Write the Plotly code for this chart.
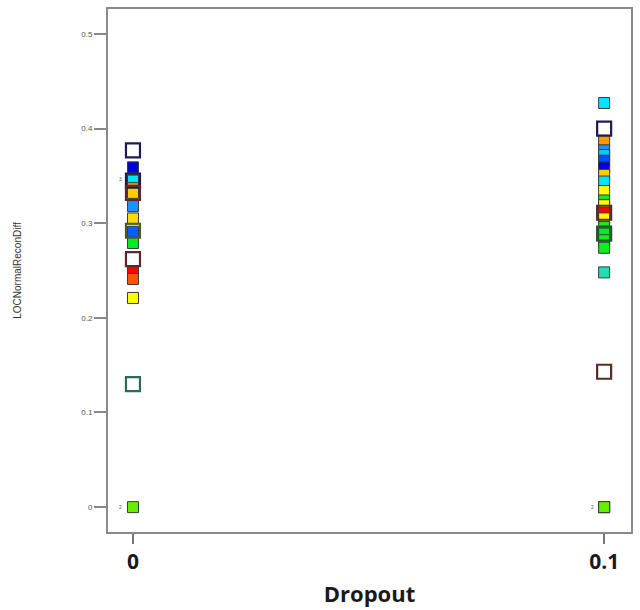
import plotly.graph_objects as go

# ---- data ----
# filled markers: dropout, LOCNormalReconDiff, colour metric (0=blue ... 1=red)
dropout_filled = [0, 0, 0, 0, 0, 0, 0, 0, 0, 0, 0, 0, 0, 0,
                  0.1, 0.1, 0.1, 0.1, 0.1, 0.1, 0.1, 0.1, 0.1, 0.1,
                  0.1, 0.1, 0.1, 0.1, 0.1, 0.1, 0.1, 0.1, 0.1, 0.1, 0.1]
diff_filled = [0.359, 0.345, 0.345, 0.345, 0.337, 0.332, 0.318, 0.305, 0.291, 0.279,
               0.249, 0.241, 0.221, 0.0,
               0.427, 0.387, 0.377, 0.372, 0.366, 0.359, 0.351, 0.344, 0.334, 0.324,
               0.319, 0.311, 0.305, 0.296, 0.289, 0.282, 0.274, 0.248, 0.0, 0.0, 0.0]
color_metric = [0.0, 0.35, 0.35, 0.35, 0.88, 0.82, 0.2, 0.80, 0.12, 0.55,
                1.0, 0.94, 0.75, 0.63,
                0.35, 0.88, 0.2, 0.3, 0.1, 0.0, 0.82, 0.35, 0.75, 0.56,
                0.76, 1.0, 0.76, 0.57, 0.55, 0.57, 0.56, 0.45, 0.63, 0.63, 0.63]

# hollow (highlighted) markers
dropout_hollow = [0, 0, 0, 0, 0, 0.1, 0.1, 0.1, 0.1]
diff_hollow = [0.377, 0.345, 0.332, 0.292, 0.262, 0.400, 0.311, 0.289, 0.143]
hollow_group = ["navy", "navy", "brown", "olive", "brown", "navy", "brown", "green", "brown"]
diff_hollow_teal = [0.130]
dropout_hollow_teal = [0]

# count labels (overlapping points)
count_x = [0, 0, 0.1]
count_y = [0.347, 0.0, 0.0]
count_text = ["3", "2", "2"]

x_tickvals = [0, 0.1]
x_ticktext = ["0", "0.1"]
y_tickvals = [0, 0.1, 0.2, 0.3, 0.4, 0.5]
y_ticktext = ["0", "0.1", "0.2", "0.3", "0.4", "0.5"]

# ---- styling ----
rainbow = [
    [0.0, "#0000dd"], [0.1, "#0050ff"], [0.2, "#1e90ff"], [0.35, "#00e5ff"],
    [0.45, "#20e0b0"], [0.55, "#00ee20"], [0.63, "#66ee00"], [0.75, "#ffff00"],
    [0.82, "#ffcc00"], [0.88, "#ff9900"], [0.94, "#ff5500"], [1.0, "#ff0000"],
]
group_color = {"navy": "#1c1c4e", "brown": "#5a2a2a", "olive": "#4e5a2a",
               "green": "#1f5a2a", "teal": "#2a6a5a"}

fig = go.Figure()

fig.add_trace(go.Scatter(
    x=dropout_filled, y=diff_filled, mode="markers",
    marker=dict(symbol="square", size=11, color=color_metric, colorscale=rainbow,
                cmin=0, cmax=1, line=dict(color="#3a3a3a", width=1)),
    showlegend=False, hoverinfo="x+y",
))

fig.add_trace(go.Scatter(
    x=dropout_hollow, y=diff_hollow, mode="markers",
    marker=dict(symbol="square-open", size=14,
                color=[group_color[g] for g in hollow_group],
                line=dict(width=2.2)),
    showlegend=False, hoverinfo="x+y",
))
fig.add_trace(go.Scatter(
    x=dropout_hollow_teal, y=diff_hollow_teal, mode="markers",
    marker=dict(symbol="square-open", size=14, color=group_color["teal"],
                line=dict(width=2.2)),
    showlegend=False, hoverinfo="x+y",
))

for cx, cy, ct in zip(count_x, count_y, count_text):
    fig.add_annotation(x=cx, y=cy, text=ct, showarrow=False, xshift=-12,
                       font=dict(size=5, color="#555555", family="Liberation Sans"))

fig.update_layout(
    width=640, height=610,
    margin=dict(l=108, r=7, t=7, b=78),
    paper_bgcolor="white", plot_bgcolor="white",
    font=dict(family="Liberation Sans", color="#333333"),
    xaxis=dict(
        range=[-0.0053, 0.1057], tickvals=x_tickvals, ticktext=x_ticktext,
        ticks="outside", ticklen=10, tickwidth=1.5, tickcolor="#777777",
        showline=True, linecolor="#8a8a8a", linewidth=2, mirror=True,
        showgrid=False, zeroline=False,
        tickfont=dict(family="Open Sans", size=21, color="#1a1a1a", weight="bold"),
        title=dict(text="<b>Dropout</b>", standoff=12,
                   font=dict(family="Open Sans", size=22, color="#1a1a1a")),
    ),
    yaxis=dict(
        range=[-0.0263, 0.5263], tickvals=y_tickvals, ticktext=y_ticktext,
        ticks="outside", ticklen=12, tickwidth=1.5, tickcolor="#888888",
        showline=True, linecolor="#8a8a8a", linewidth=2, mirror=True,
        showgrid=False, zeroline=False,
        tickfont=dict(family="Liberation Sans", size=8, color="#555555"),
        title=dict(text="LOCNormalReconDiff", standoff=58,
                   font=dict(family="Liberation Sans", size=10, color="#333333")),
    ),
)

fig.write_html("out.html")
